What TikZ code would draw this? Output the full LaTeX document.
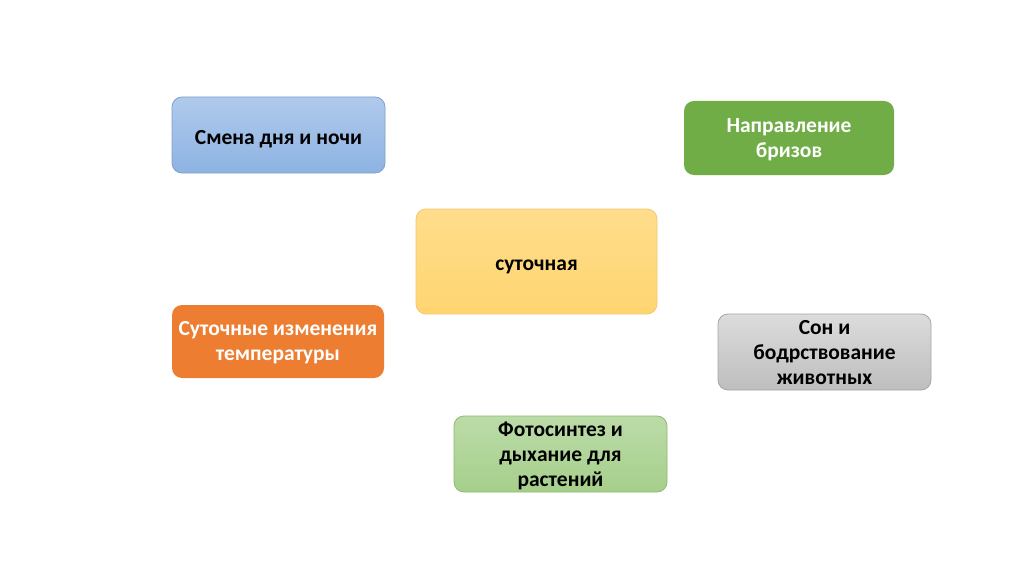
\documentclass[tikz,border=0pt]{standalone}
\usepackage{fontspec}
\setmainfont{Carlito}
\usetikzlibrary{positioning}

\definecolor{blueTop}{HTML}{B0CAEC}
\definecolor{blueBot}{HTML}{8DB3E2}
\definecolor{blueLine}{HTML}{7F9FCC}
\definecolor{grnDark}{HTML}{70AD47}
\definecolor{yelTop}{HTML}{FFDD8C}
\definecolor{yelBot}{HTML}{FFD570}
\definecolor{yelLine}{HTML}{F5C76E}
\definecolor{orgFill}{HTML}{ED7D31}
\definecolor{grayTop}{HTML}{DCDCDC}
\definecolor{grayBot}{HTML}{BEBEBE}
\definecolor{grayLine}{HTML}{A6A6A6}
\definecolor{grnTop}{HTML}{BBDBA8}
\definecolor{grnBot}{HTML}{A6CF8B}
\definecolor{grnLine}{HTML}{8DBA6E}

\begin{document}
\begin{tikzpicture}[
    x=1pt, y=1pt,
    box/.style      = {rounded corners=10pt, align=center, inner sep=2pt,
                       font=\fontsize{21.5}{25}\selectfont\bfseries},
    bluebox/.style  = {box, top color=blueTop, bottom color=blueBot,
                       draw=blueLine, line width=0.8pt},
    darkgrn/.style  = {box, fill=grnDark, text=white},
    yelbox/.style   = {box, top color=yelTop, bottom color=yelBot,
                       draw=yelLine, line width=0.8pt},
    orgbox/.style   = {box, fill=orgFill, text=white},
    graybox/.style  = {box, top color=grayTop, bottom color=grayBot,
                       draw=grayLine, line width=0.8pt},
    ltgrn/.style    = {box, top color=grnTop, bottom color=grnBot,
                       draw=grnLine, line width=0.8pt},
]

% ============================================================
%  CANVAS  (1024 x 574)
% ============================================================
\useasboundingbox[fill=white] (0,0) rectangle (1024,574);

% ------------------------------------------------------------
%  CENTRE
% ------------------------------------------------------------
\node[yelbox, minimum width=241pt, minimum height=105pt,
      text height=18pt, text depth=0pt] (daily)
    at (536.5, 312.5) {суточная};

% ------------------------------------------------------------
%  TOP ROW
% ------------------------------------------------------------
\node[bluebox, minimum width=213pt, minimum height=76pt,
      text height=19.4pt, text depth=0pt] (daynight)
    at (278.5, 439) {Смена дня и ночи};
\node[darkgrn, minimum width=210pt, minimum height=74pt,
      text depth=-1pt] (breeze)
    at (789, 436) {Направление\\бризов};

% ------------------------------------------------------------
%  MIDDLE ROW
% ------------------------------------------------------------
\node[orgbox, minimum width=212pt, minimum height=73pt,
      text depth=2pt] (temp)
    at (278, 232.5) {Суточные изменения\\температуры};
\node[graybox, minimum width=213pt, minimum height=76pt,
      text depth=-5pt] (sleep)
    at (824.5, 222) {Сон и\\бодрствование\\животных};

% ------------------------------------------------------------
%  BOTTOM
% ------------------------------------------------------------
\node[ltgrn, minimum width=213pt, minimum height=76pt,
      text depth=-10pt] (photo)
    at (560.5, 120) {Фотосинтез и\\дыхание для\\растений};

\end{tikzpicture}
\end{document}
